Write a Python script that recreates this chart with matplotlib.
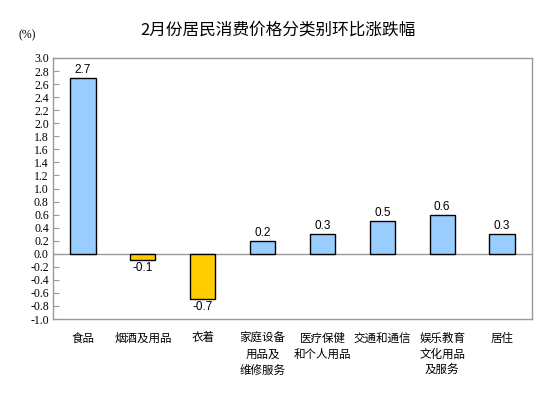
import matplotlib
matplotlib.use("Agg")
import matplotlib.pyplot as plt

categories = ["食品", "烟酒及用品", "衣着", "家庭设备\n用品及\n维修服务", "医疗保健\n和个人用品",
              "交通和通信", "娱乐教育\n文化用品\n及服务", "居住"]
values = [2.7, -0.1, -0.7, 0.2, 0.3, 0.5, 0.6, 0.3]
value_labels = ["2.7", "-0.1", "-0.7", "0.2", "0.3", "0.5", "0.6", "0.3"]
yticks = [-1.0, -0.8, -0.6, -0.4, -0.2, 0.0, 0.2, 0.4, 0.6, 0.8, 1.0, 1.2, 1.4,
          1.6, 1.8, 2.0, 2.2, 2.4, 2.6, 2.8, 3.0]
title = "2月份居民消费价格分类别环比涨跌幅"

cjk = ["Noto Sans CJK SC", "DejaVu Sans"]

fig = plt.figure(figsize=(5.54, 3.98), dpi=100)
ax = fig.add_axes([53/554, 1-319/398, (532-53)/554, (319-58)/398])

x = list(range(len(categories)))
colors = ["#99CCFF" if v >= 0 else "#FFCC00" for v in values]
ax.bar(x, values, width=0.42, color=colors, edgecolor="black", linewidth=1.0, zorder=3)

ax.set_xlim(-0.5, len(categories) - 0.5)
ax.set_ylim(-1.0, 3.0)
ax.set_yticks(yticks)
ax.set_yticklabels([f"{t:.1f}" for t in yticks], family="Liberation Serif", fontsize=8.5)
ax.axhline(0, color="#999999", linewidth=1.0, zorder=2)

for s in ax.spines.values():
    s.set_color("#999999")
    s.set_linewidth(1.0)

ax.tick_params(axis="y", direction="in", length=4, color="#999999", pad=3)
ax.set_xticks(x)
ax.set_xticklabels(categories, family=cjk, fontsize=8.3, linespacing=1.3, va="top")
ax.tick_params(axis="x", length=0, pad=9)

for xi, v, t in zip(x, values, value_labels):
    if v >= 0:
        ax.text(xi, v + 0.03, t, ha="center", va="bottom", fontsize=8.5, family="Liberation Sans")
    else:
        ax.text(xi, v - 0.03, t, ha="center", va="top", fontsize=8.5, family="Liberation Sans")

fig.text(278/554, 1-30/398, title, ha="center", va="center", fontsize=12, fontweight="medium", family=cjk)
fig.text(27/554, 1-35/398, "(%)", ha="center", va="center", fontsize=8.5, family="Liberation Serif")

fig.savefig("out.png", dpi=100)
